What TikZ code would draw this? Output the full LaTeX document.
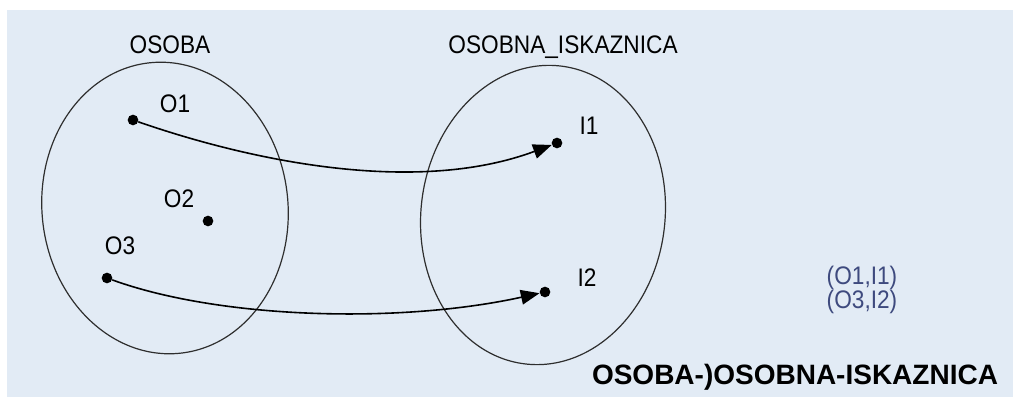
\documentclass[tikz,border=0pt]{standalone}
\usepackage{fontspec}
\setmainfont{Liberation Sans}
\usepackage{xcolor}
\usepackage{tikz}
\usetikzlibrary{arrows.meta}
\definecolor{bgblue}{HTML}{E2EBF5}
\definecolor{linegray}{HTML}{2E2E2E}
\definecolor{pairblue}{HTML}{3E4A7E}
\tikzset{every node/.append style={font=\fontsize{17}{19}\selectfont}}
\newcommand{\tall}[1]{\scalebox{1}[1.12]{#1}}
\tikzset{
  elem/.style={circle,fill=black,inner sep=0pt,minimum size=8pt},
  lbl/.style={inner sep=0pt,anchor=base},
  setline/.style={draw=linegray,line width=0.9pt},
}

\begin{document}
\begin{tikzpicture}[x=0.75pt,y=0.75pt,>={Triangle[length=14pt,width=11pt]}]
  \useasboundingbox (0,0) rectangle (1013,399);
  \fill[bgblue] (7,2) rectangle (1013,389);
  % the two sets
  \draw[setline,rotate around={6:(165,191)}] (165,191) ellipse [x radius=123,y radius=146];
  \draw[setline,rotate around={-7:(543,184)}] (543,184) ellipse [x radius=122,y radius=150];
  \node[lbl] (osoba) at (170,345) {\tall{OSOBA}};
  \node[lbl] (iskaz) at (563,345) {\tall{OSOBNA\_ISKAZNICA}};
  % elements
  \node[elem] (o1) at (133,279) {};
  \node[elem] (o2) at (208,178) {};
  \node[elem] (o3) at (107,121) {};
  \node[elem] (i1) at (557,256) {};
  \node[elem] (i2) at (545,107) {};
  \node[lbl] (o1l) at (175,286) {\tall{O1}};
  \node[lbl] (o2l) at (179,191) {\tall{O2}};
  \node[lbl] (o3l) at (120,144) {\tall{O3}};
  \node[lbl] (i1l) at (589,264) {\tall{I1}};
  \node[lbl] (i2l) at (587,112) {\tall{I2}};
  % mapping
  \draw[->,black,line width=1.2pt] (o1) .. controls (260,235) and (420,205) .. (i1);
  \draw[->,black,line width=1.2pt] (o3) .. controls (220,80) and (400,75) .. (i2);
  \node[lbl,pairblue] (p1) at (862,114) {\tall{(O1,I1)}};
  \node[lbl,pairblue] (p2) at (862,90) {\tall{(O3,I2)}};
  \node[lbl,font=\fontsize{21}{23}\selectfont\bfseries] (rel) at (795,14) {OSOBA-)OSOBNA-ISKAZNICA};
\end{tikzpicture}
\end{document}
